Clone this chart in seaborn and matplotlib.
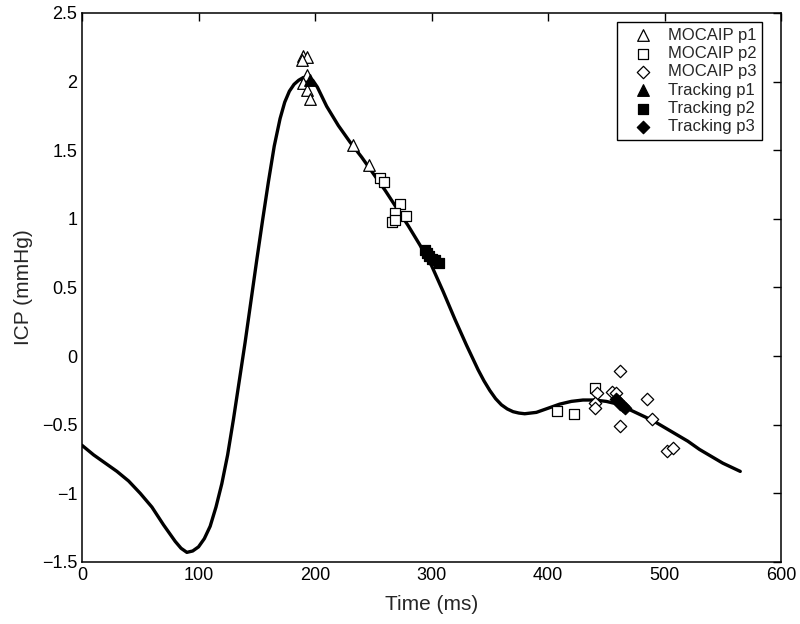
import numpy as np
import pandas as pd
import matplotlib
matplotlib.use("Agg")
import matplotlib.pyplot as plt
import seaborn as sns

# ICP waveform
curve_t = [0, 10, 20, 30, 40, 50, 60, 70, 80, 85, 90, 95, 100, 105, 110, 115, 120,
           125, 130, 135, 140, 145, 150, 155, 160, 165, 170, 174, 178, 182, 186,
           190, 194, 198, 202, 206, 210, 220, 230, 240, 250, 260, 270, 280, 290,
           300, 310, 320, 330, 340, 345, 350, 355, 360, 365, 370, 375, 380, 390,
           400, 410, 420, 430, 440, 450, 460, 470, 480, 490, 500, 510, 520, 530,
           540, 550, 560, 565]
curve_icp = [-0.65, -0.72, -0.78, -0.84, -0.91, -1.00, -1.10, -1.23, -1.35, -1.40,
             -1.43, -1.42, -1.39, -1.33, -1.24, -1.10, -0.93,
             -0.72, -0.46, -0.18, 0.10, 0.40, 0.70, 0.99, 1.27, 1.53, 1.73, 1.85,
             1.93, 1.98, 2.01, 2.03, 2.03, 2.01, 1.96, 1.89, 1.82, 1.68, 1.56,
             1.45, 1.33, 1.21, 1.08, 0.95, 0.81, 0.66, 0.47, 0.27, 0.08, -0.10,
             -0.18, -0.25, -0.31, -0.355, -0.385, -0.405, -0.415, -0.42, -0.41,
             -0.38, -0.35, -0.33, -0.32, -0.32, -0.33, -0.35, -0.39, -0.43, -0.47,
             -0.52, -0.57, -0.62, -0.68, -0.73, -0.78, -0.82, -0.84]

# MOCAIP peaks
moc_p1_t = [190, 193, 189, 193, 190, 193, 196, 233, 246]
moc_p1_icp = [2.19, 2.18, 2.16, 2.05, 1.99, 1.94, 1.87, 1.54, 1.39]
moc_p2_t = [256, 259, 273, 269, 278, 266, 269, 408, 422, 440]
moc_p2_icp = [1.30, 1.27, 1.11, 1.04, 1.02, 0.98, 0.99, -0.40, -0.42, -0.23]
moc_p3_t = [462, 442, 440, 440, 455, 458, 485, 489, 462, 502, 507]
moc_p3_icp = [-0.11, -0.27, -0.34, -0.38, -0.26, -0.27, -0.31, -0.46, -0.51, -0.69, -0.67]

# Tracking peaks
trk_p1_t = [196]
trk_p1_icp = [2.01]
trk_p2_t = [294, 296, 298, 300, 303, 306]
trk_p2_icp = [0.77, 0.75, 0.73, 0.71, 0.70, 0.68]
trk_p3_t = [458, 460, 462, 464, 466]
trk_p3_icp = [-0.31, -0.33, -0.35, -0.36, -0.38]

sns.set_style("white")
plt.rcParams['font.family'] = ['Liberation Sans', 'DejaVu Sans']

fig = plt.figure(figsize=(8, 6.24), dpi=100)
ax = fig.add_axes([0.1025, 0.0994, 0.8738, 0.8798])

sns.lineplot(x=curve_t, y=curve_icp, ax=ax, color="black", linewidth=2.4,
             sort=False, estimator=None, legend=False)

series = [
    (moc_p1_t, moc_p1_icp, "^", "white", 70, "MOCAIP p1"),
    (moc_p2_t, moc_p2_icp, "s", "white", 55, "MOCAIP p2"),
    (moc_p3_t, moc_p3_icp, "D", "white", 40, "MOCAIP p3"),
    (trk_p1_t, trk_p1_icp, "^", "black", 70, "Tracking p1"),
    (trk_p2_t, trk_p2_icp, "s", "black", 55, "Tracking p2"),
    (trk_p3_t, trk_p3_icp, "D", "black", 40, "Tracking p3"),
]
for t, v, m, fc, s, lab in series:
    sns.scatterplot(x=t, y=v, ax=ax, marker=m, s=s, facecolor=fc,
                    edgecolor="black", linewidth=0.9, label=lab, zorder=3)

ax.set_xlim(0, 600)
ax.set_ylim(-1.5, 2.5)
ax.set_xticks(np.arange(0, 601, 100))
ax.set_yticks(np.arange(-1.5, 2.51, 0.5))
ax.set_yticklabels(["\u22121.5", "\u22121", "\u22120.5", "0", "0.5", "1", "1.5", "2", "2.5"])
ax.tick_params(direction="in", top=True, right=True, length=6, width=1,
               labelsize=13, colors="black")
for sp in ax.spines.values():
    sp.set_color("black")
    sp.set_linewidth(1.1)

ax.set_xlabel("Time (ms)", fontsize=15, labelpad=8)
ax.set_ylabel("ICP (mmHg)", fontsize=15, labelpad=6)

leg = ax.legend(loc="upper right", bbox_to_anchor=(0.9728, 0.9836), fontsize=12,
                frameon=True, fancybox=False, edgecolor="black", framealpha=1,
                handletextpad=0.3, borderpad=0.35, labelspacing=0.2,
                borderaxespad=0, handlelength=2.4)
leg.get_frame().set_linewidth(1.0)

fig.savefig("out.png", dpi=100)
